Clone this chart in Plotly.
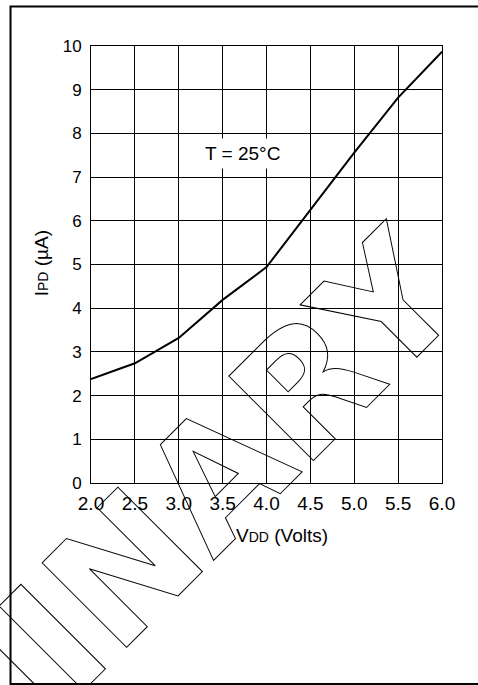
import plotly.graph_objects as go

# supply voltage (V) vs power-down current (uA) at 25 C
vdd = [2.0, 2.5, 3.0, 3.5, 4.0, 4.5, 5.0, 5.5, 6.0]
ipd = [2.38, 2.74, 3.32, 4.19, 4.94, 6.25, 7.56, 8.82, 9.87]

x_ticks = [2.0, 2.5, 3.0, 3.5, 4.0, 4.5, 5.0, 5.5, 6.0]
y_ticks = [0, 1, 2, 3, 4, 5, 6, 7, 8, 9, 10]

FONT = "Arial, Liberation Sans, sans-serif"

fig = go.Figure()

fig.add_trace(go.Scatter(
    x=vdd,
    y=ipd,
    mode="lines",
    line=dict(color="black", width=2),
    showlegend=False,
    hoverinfo="skip",
))

axis_common = dict(
    showgrid=True,
    gridcolor="black",
    gridwidth=1,
    showline=True,
    linecolor="black",
    linewidth=1,
    mirror=True,
    zeroline=False,
    ticks="",
)

fig.update_xaxes(
    range=[2.0, 6.0],
    tickvals=x_ticks,
    ticktext=[f"{v:.1f}" for v in x_ticks],
    ticklabelstandoff=3,
    tickfont=dict(family=FONT, size=19, color="black"),
    **axis_common,
)
fig.update_yaxes(
    range=[0, 10],
    tickvals=y_ticks,
    ticklabelstandoff=5,
    tickfont=dict(family=FONT, size=17, color="black"),
    **axis_common,
)

# outer frame of the figure
fig.add_shape(type="rect", xref="paper", yref="paper",
              x0=-0.2293, x1=1.11, y0=-0.46, y1=1.0904,
              line=dict(color="black", width=2), fillcolor="rgba(0,0,0,0)")

annotations = [
    # watermark (outlined afterwards via post_script)
    dict(text="PRELIMINARY", xref="paper", yref="paper", x=-0.2883, y=-0.5078,
         xanchor="center", yanchor="middle", textangle=-45, showarrow=False,
         font=dict(family="DejaVu Sans", size=164, weight="bold", color="black")),
    dict(text="T = 25°C", x=3.73, y=7.53, xref="x", yref="y", showarrow=False,
         bgcolor="white", borderpad=4,
         font=dict(family=FONT, size=19, color="black")),
    dict(text="V<span style='font-size:14px'>DD</span> (Volts)",
         xref="paper", yref="paper", x=0.543, y=-0.1195,
         xanchor="center", yanchor="middle", showarrow=False,
         font=dict(family=FONT, size=19, color="black")),
    dict(text="I<span style='font-size:14px'>PD</span> (µA)",
         xref="paper", yref="paper", x=-0.1405, y=0.502, textangle=-90,
         xanchor="center", yanchor="middle", showarrow=False,
         font=dict(family=FONT, size=19, color="black")),
]

fig.update_layout(
    width=478,
    height=685,
    margin=dict(l=91, r=36, t=46, b=202),
    paper_bgcolor="white",
    plot_bgcolor="white",
    annotations=annotations,
    showlegend=False,
)

outline_js = """
document.body.style.margin = '0';
document.body.style.overflow = 'hidden';
var gd = document.getElementById('{plot_id}');
function outlineWatermark() {
  gd.querySelectorAll('text.annotation-text').forEach(function (t) {
    if (t.textContent === 'PRELIMINARY') {
      t.style.fill = 'none';
      t.style.stroke = 'black';
      t.style.strokeWidth = '1px';
    }
  });
}
outlineWatermark();
gd.on('plotly_afterplot', outlineWatermark);
"""

fig.write_html("out.html", config={"displayModeBar": False}, post_script=outline_js)
